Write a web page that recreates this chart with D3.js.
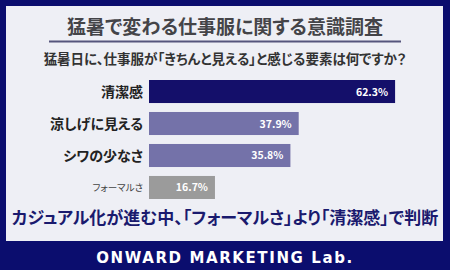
<!DOCTYPE html>
<html>
<head>
<meta charset="utf-8">
<script src="https://cdn.jsdelivr.net/npm/d3@7"></script>
<style>
  body { margin: 0; background: #0b0d6e; }
  svg { display: block; font-family: "Noto Sans CJK JP", "Noto Sans", sans-serif; }
  .palt { font-feature-settings: "palt"; }
</style>
</head>
<body>
<div id="chart"></div>
<script>
var categories = ["清潔感", "涼しげに見える", "シワの少なさ", "フォーマルさ"];
var values     = [62.3, 37.9, 35.8, 16.7];
var barColors  = ["#140f6a", "#7472a9", "#7472a9", "#9b9b9b"];

var title    = "猛暑で変わる仕事服に関する意識調査";
var subtitle = "猛暑日に、仕事服が「きちんと見える」と感じる要素は何ですか？";
var callout  = "カジュアル化が進む中、「フォーマルさ」より「清潔感」で判断";
var footer   = "ONWARD MARKETING Lab.";

var W = 450, H = 270;

var svg = d3.select("#chart").append("svg")
  .attr("width", W)
  .attr("height", H);

svg.append("rect").attr("width", W).attr("height", H).attr("fill", "#0b0d6e");

// light panel
svg.append("rect")
  .attr("x", 6).attr("y", 6)
  .attr("width", 437).attr("height", 235)
  .attr("fill", "#eeeff5");

svg.append("text")
  .attr("class", "palt")
  .attr("x", 225).attr("y", 34)
  .attr("text-anchor", "middle")
  .attr("font-size", 19)
  .attr("font-weight", "bold")
  .attr("fill", "#444448")
  .text(title);

svg.append("line")
  .attr("x1", 49).attr("x2", 401)
  .attr("y1", 41.5).attr("y2", 41.5)
  .attr("stroke", "#55557c")
  .attr("stroke-width", 2);

svg.append("text")
  .attr("class", "palt")
  .attr("x", 225).attr("y", 64)
  .attr("text-anchor", "middle")
  .attr("font-size", 13.5)
  .attr("font-weight", "bold")
  .attr("fill", "#333")
  .text(subtitle);

var x = d3.scaleLinear().domain([0, 100]).range([149, 544]);

var y = d3.scaleBand()
  .domain(categories)
  .range([80, 199])
  .paddingInner(0.28)
  .paddingOuter(0);

var rows = svg.append("g").selectAll("g")
  .data(categories)
  .enter()
  .append("g");

rows.append("rect")
  .attr("x", x(0))
  .attr("y", function(d){ return y(d); })
  .attr("width", function(d, i){ return x(values[i]) - x(0); })
  .attr("height", y.bandwidth())
  .attr("fill", function(d, i){ return barColors[i]; });

rows.append("text")
  .attr("x", function(d, i){ return x(values[i]) - 7; })
  .attr("y", function(d){ return y(d) + y.bandwidth() / 2 + 4; })
  .attr("text-anchor", "end")
  .attr("font-size", 10.5)
  .attr("font-weight", "bold")
  .attr("fill", "#fff")
  .text(function(d, i){ return values[i].toFixed(1) + "%"; });

rows.append("text")
  .attr("class", "palt")
  .attr("x", 143)
  .attr("y", function(d, i){ return y(d) + y.bandwidth() / 2 + (i < 3 ? 5.5 : 3.5); })
  .attr("text-anchor", "end")
  .attr("font-size", function(d, i){ return i < 3 ? 14 : 9.5; })
  .attr("font-weight", function(d, i){ return i < 3 ? "bold" : "normal"; })
  .attr("fill", function(d, i){ return i < 3 ? "#222" : "#444"; })
  .text(function(d){ return d; });

svg.append("text")
  .attr("class", "palt")
  .attr("x", 225).attr("y", 224)
  .attr("text-anchor", "middle")
  .attr("font-size", 17)
  .attr("font-weight", "bold")
  .attr("fill", "#1a1a6e")
  .text(callout);

svg.append("text")
  .attr("x", 225).attr("y", 263)
  .attr("text-anchor", "middle")
  .attr("font-family", "'DejaVu Sans', sans-serif")
  .attr("font-size", 15)
  .attr("font-weight", "bold")
  .attr("letter-spacing", 1.6)
  .attr("fill", "#fff")
  .text(footer);
</script>
</body>
</html>
